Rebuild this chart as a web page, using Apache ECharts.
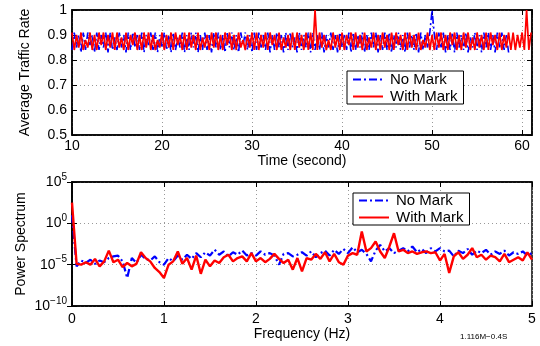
<!DOCTYPE html>
<html>
<head>
<meta charset="utf-8">
<script src="https://cdn.jsdelivr.net/npm/echarts@6/dist/echarts.min.js"></script>
<style>
  html, body { margin: 0; padding: 0; background: #fff; }
  #chart { width: 540px; height: 346px; }
</style>
</head>
<body>
<div id="chart"></div>
<script>
// top plot: traffic rate sampled every 0.25 s from t = 10 s (values in hundredths)
const rateStart = 10
const rateStep = 0.25
const noMarkRate = [
  84,91,85,90,83,91,84,91,86,90, 83,91,84,90,85,91,83,91,84,89,
  84,91,85,90,83,91,84,91,85,90, 84,91,83,90,86,91,84,91,83,90,
  85,91,84,90,83,91,84,89,85,91, 83,90,84,91,85,91,83,90,84,91,
  84,90,83,91,85,91,84,90,83,91, 85,91,84,90,83,91,86,91,84,90,
  83,91,84,91,85,90,84,91,83,90, 84,91,85,90,83,91,84,91,85,89,
  83,91,84,90,85,91,83,91,84,90, 84,91,83,90,85,91,84,90,83,91,
  85,90,84,91,83,91,84,90,85,91, 83,90,84,91,85,91,83,90,84,91,
  84,91,83,90,85,91,84,90,83,91, 85,90,84,91,83,91,84,90,85,91,
  100,90,84,91,85,91,83,90,84,91, 83,91,85,90,84,91,83,89,85,91,
  84,90,83,91,85,91,84,90,83,91, 85,91,84,90,83
]
const withMarkRate = [
  91,84,90,85,91,84,88,85,91,84, 90,84,91,86,91,84,90,85,91,84,
  91,85,89,84,91,84,90,86,91,84, 90,84,91,85,91,84,90,84,88,85,
  91,84,90,85,91,84,91,86,90,84, 91,84,91,85,90,84,91,84,89,85,
  90,84,91,85,91,84,90,84,91,86, 91,84,90,84,91,85,88,84,90,85,
  91,84,91,84,90,85,91,84,91,86, 90,84,91,84,89,85,90,84,91,84,
  91,85,90,84,91,84,91,84,100,84, 91,85,90,84,88,84,91,85,90,84,
  91,84,90,86,91,84,91,85,90,84, 91,84,89,85,91,84,90,84,91,85,
  90,84,91,84,91,86,90,84,91,84, 91,85,90,84,91,84,88,85,91,84,
  90,84,91,85,91,84,90,84,91,86, 91,84,90,84,91,85,91,84,89,84,
  91,85,90,84,91,84,91,86,90,84, 91,84,90,85,91,84,91,84,90,85,
  91,84,100,84,91
]

// bottom plot: power spectrum, frequency step 0.05 Hz, values as log10 exponents
const freqStep = 0.05
const noMarkPowerExp = [
  1.0,-5.2,-4.5,-4.8,-4.4,-4.9,-4.5,-4.7,-4.2,-4.0,
  -3.9,-4.6,-6.6,-4.2,-4.8,-3.8,-4.3,-4.5,-4.0,-4.7,
  -5.0,-4.2,-4.6,-3.9,-4.4,-3.8,-4.3,-3.6,-4.1,-3.5,
  -3.9,-3.2,-3.8,-3.4,-4.0,-3.5,-3.8,-3.3,-3.9,-3.6,
  -3.9,-3.4,-3.8,-3.6,-3.9,-5.0,-3.7,-3.6,-4.0,-3.8,
  -3.5,-3.9,-3.4,-4.1,-3.6,-3.3,-3.9,-3.2,-3.7,-3.1,
  -3.6,-2.9,-3.5,-3.2,-3.7,-4.6,-3.3,-2.6,-3.4,-3.0,
  -3.6,-3.3,-3.0,-3.4,-2.8,-3.5,-3.1,-3.6,-3.0,-3.4,
  -3.0,-3.4,-3.3,-4.0,-3.3,-3.6,-3.1,-3.8,-3.3,-3.6,
  -3.2,-3.8,-3.4,-3.7,-3.3,-3.9,-3.5,-3.7,-3.4,-3.9,
  -3.6
]
const withMarkPowerExp = [
  2.5,-4.9,-5.0,-4.7,-5.0,-4.3,-5.2,-4.6,-3.3,-4.7,
  -4.4,-5.3,-4.8,-5.2,-4.9,-3.5,-4.2,-4.6,-5.4,-5.9,
  -6.6,-5.0,-4.6,-3.4,-4.9,-4.2,-5.6,-3.9,-6.1,-4.4,
  -5.2,-4.5,-4.8,-4.1,-3.8,-4.6,-4.2,-4.0,-4.6,-3.6,
  -4.6,-4.2,-4.7,-4.3,-3.7,-4.3,-4.8,-4.4,-5.6,-4.2,
  -5.8,-4.2,-4.4,-3.7,-4.3,-3.5,-4.6,-3.7,-4.7,-5.0,
  -3.9,-3.6,-3.8,-1.0,-3.4,-3.0,-2.2,-3.4,-4.2,-2.8,
  -1.2,-3.4,-3.2,-3.6,-3.4,-3.7,-3.5,-3.4,-3.6,-3.5,
  -4.5,-3.7,-6.0,-4.0,-3.5,-4.3,-3.8,-3.0,-4.1,-3.8,
  -4.4,-3.9,-4.1,-4.6,-3.7,-4.7,-4.4,-4.1,-4.5,-3.5,
  -4.4
]

const FONT = '"Liberation Sans", Arial, sans-serif'
const BLUE = '#0000ff'
const RED = '#ff0000'
const DASHDOT = [8, 3, 2, 3]

const ratePairs = vals => vals.map((v, i) => [rateStart + i * rateStep, v / 100])
const powerPairs = exps => exps.map((e, i) => [+(i * freqStep).toFixed(2), Math.pow(10, e)])

const grids = [
  { left: 72, right: 8, top: 10, height: 125, show: true, borderColor: '#000', borderWidth: 1.5 },
  { left: 72, right: 8, top: 182, height: 124, show: true, borderColor: '#000', borderWidth: 1.5 }
]

const dotted = { show: true, lineStyle: { color: '#999', type: [1, 3], width: 1 } }
const tickIn = { show: true, inside: true, length: 5, lineStyle: { color: '#000' } }
const axisLine = { show: true, lineStyle: { color: '#000', width: 1.5 } }
const lbl = { color: '#000', fontSize: 14, fontFamily: FONT }

function supLabel(v) {
  const e = Math.round(Math.log10(v))
  return '10{s|' + (e < 0 ? '\u2212' + (-e) : e) + '}'
}
const logLabel = {
  ...lbl, formatter: supLabel,
  rich: { s: { fontSize: 10, verticalAlign: 'top', padding: [0, 0, 10, 0], fontFamily: FONT, color: '#000' } }
}

const xRate = { type: 'value', min: 10, max: 61.1, interval: 10 }
const yRate = { type: 'value', min: 0.5, max: 1, interval: 0.1 }
const xFreq = { type: 'value', min: 0, max: 5, interval: 1 }
const yPow = { type: 'log', logBase: 10, min: 1e-10, max: 1e5, interval: 5 }

const legendBase = {
  orient: 'vertical', itemWidth: 30, itemHeight: 8, itemGap: 2,
  backgroundColor: '#fff', borderColor: '#000', borderWidth: 1, borderRadius: 0,
  itemStyle: { opacity: 0 },
  textStyle: { ...lbl, fontSize: 15, padding: [0, 0, 0, 2] }
}

const option = {
  animation: false,
  backgroundColor: '#fff',
  grid: grids,
  title: [{
    text: '1.116M\u22120.4S', left: 455, top: 328,
    textStyle: { fontSize: 8, fontWeight: 'normal', fontFamily: FONT, color: '#000' }
  }],
  xAxis: [
    { ...xRate, gridIndex: 0, axisLine, axisTick: tickIn, splitLine: dotted,
      axisLabel: { ...lbl, margin: 4 },
      name: 'Time (second)', nameLocation: 'middle', nameGap: 16, nameTextStyle: lbl },
    { ...xRate, gridIndex: 0, position: 'top', axisLine, axisTick: tickIn, axisLabel: { show: false }, splitLine: { show: false } },
    { ...xFreq, gridIndex: 1, axisLine, axisTick: tickIn, splitLine: dotted,
      axisLabel: { ...lbl, margin: 6 },
      name: 'Frequency (Hz)', nameLocation: 'middle', nameGap: 18, nameTextStyle: lbl },
    { ...xFreq, gridIndex: 1, position: 'top', axisLine, axisTick: tickIn, axisLabel: { show: false }, splitLine: { show: false } }
  ],
  yAxis: [
    { ...yRate, gridIndex: 0, axisLine, axisTick: tickIn, splitLine: dotted,
      axisLabel: { ...lbl, margin: 5 },
      name: 'Average Traffic Rate', nameLocation: 'middle', nameGap: 40, nameTextStyle: lbl },
    { ...yRate, gridIndex: 0, position: 'right', axisLine, axisTick: tickIn, axisLabel: { show: false }, splitLine: { show: false } },
    { ...yPow, gridIndex: 1, axisLine, axisTick: tickIn, splitLine: dotted,
      axisLabel: { ...logLabel, margin: 5 },
      name: 'Power Spectrum', nameLocation: 'middle', nameGap: 44, nameMoveOverlap: false, nameTextStyle: lbl },
    { ...yPow, gridIndex: 1, position: 'right', axisLine, axisTick: tickIn, axisLabel: { show: false }, splitLine: { show: false } }
  ],
  legend: [
    { ...legendBase, left: 347, top: 71, padding: [1, 6, 0, 5],
      data: [{ name: 'No Mark' }, { name: 'With Mark' }] },
    { ...legendBase, left: 353, top: 193, padding: [0, 6, 0, 5],
      data: [
        { name: 'No Mark', lineStyle: { width: 2 } },
        { name: 'With Mark', lineStyle: { width: 2 } }
      ] }
  ],
  series: [
    { name: 'No Mark', type: 'line', xAxisIndex: 0, yAxisIndex: 0, data: ratePairs(noMarkRate),
      symbol: 'none', lineStyle: { color: BLUE, width: 1.6, type: DASHDOT }, itemStyle: { color: BLUE } },
    { name: 'With Mark', type: 'line', xAxisIndex: 0, yAxisIndex: 0, data: ratePairs(withMarkRate),
      symbol: 'none', lineStyle: { color: RED, width: 1.7 }, itemStyle: { color: RED } },
    { name: 'No Mark', type: 'line', xAxisIndex: 2, yAxisIndex: 2, data: powerPairs(noMarkPowerExp),
      symbol: 'none', lineStyle: { color: BLUE, width: 2.2, type: DASHDOT }, itemStyle: { color: BLUE } },
    { name: 'With Mark', type: 'line', xAxisIndex: 2, yAxisIndex: 2, data: powerPairs(withMarkPowerExp),
      symbol: 'none', lineStyle: { color: RED, width: 2.4 }, itemStyle: { color: RED } }
  ]
}

const chart = echarts.init(document.getElementById('chart'), null, { renderer: 'canvas' })
chart.setOption(option)
</script>
</body>
</html>
